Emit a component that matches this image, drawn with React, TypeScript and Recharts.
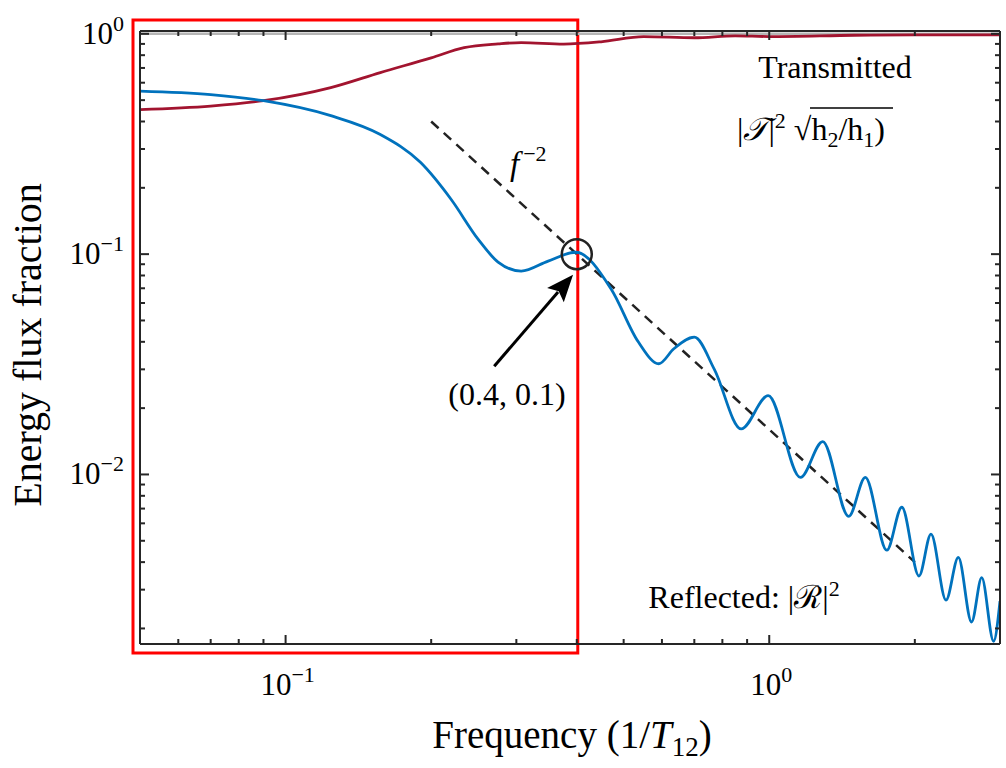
import React from "react";
import {
  LineChart,
  Line,
  XAxis,
  YAxis,
  ReferenceLine,
  ReferenceDot,
  ReferenceArea,
} from "recharts";

// reflected energy flux |R|^2 (blue)
const reflectedFreq = [
  0.05, 0.07, 0.09, 0.124, 0.157, 0.19, 0.22, 0.25, 0.275, 0.307, 0.349, 0.398,
  0.471, 0.536, 0.591, 0.635, 0.7, 0.77, 0.875, 0.995, 1.16, 1.29, 1.46, 1.58,
  1.75, 1.88, 2.04, 2.16, 2.32, 2.46, 2.62, 2.75, 2.91, 3.0,
];
const reflectedValue = [
  0.55, 0.53, 0.497, 0.425, 0.349, 0.261, 0.177, 0.117, 0.092, 0.0838, 0.093, 0.102,
  0.0695, 0.04, 0.0318, 0.0372, 0.042, 0.03, 0.0161, 0.0228, 0.0097, 0.0141, 0.00645, 0.0097,
  0.00453, 0.0071, 0.00346, 0.00536, 0.00269, 0.0042, 0.00214, 0.0034, 0.00175, 0.00266,
];

// transmitted energy flux (dark red)
const transmittedFreq = [
  0.05, 0.07, 0.09, 0.124, 0.157, 0.2, 0.234, 0.275, 0.307, 0.376, 0.449, 0.55, 0.7,
  0.85, 1.0, 1.5, 2.0, 3.0,
];
const transmittedValue = [
  0.453, 0.47, 0.497, 0.57, 0.667, 0.778, 0.865, 0.9, 0.913, 0.898, 0.92, 0.972, 0.96,
  0.979, 0.972, 0.985, 0.99, 0.99,
];

// f^-2 guide line
const slopeFreq = [0.2, 2];
const slopeValue = [0.4, 0.004];

// marked point
const markFreq = 0.4;
const markValue = 0.1;
const arrowFrom = { x: 0.27, y: 0.031 };
const arrowTo = { x: 0.393, y: 0.0807 };

const xTicks = [0.06, 0.07, 0.08, 0.09, 0.1, 0.2, 0.3, 0.4, 0.5, 0.6, 0.7, 0.8, 0.9, 1, 2];
const yTicks = [
  0.002, 0.003, 0.004, 0.005, 0.006, 0.007, 0.008, 0.009, 0.01, 0.02, 0.03, 0.04, 0.05,
  0.06, 0.07, 0.08, 0.09, 0.1, 0.2, 0.3, 0.4, 0.5, 0.6, 0.7, 0.8, 0.9, 1,
];

const reflected = reflectedFreq.map((f, i) => ({ f, v: reflectedValue[i] }));
const transmitted = transmittedFreq.map((f, i) => ({ f, v: transmittedValue[i] }));
const slope = slopeFreq.map((f, i) => ({ f, v: slopeValue[i] }));

const FONT = "'Liberation Serif', 'Times New Roman', serif";
const AXIS = "#262626";

const isMajor = (v: number) => Math.abs(Math.log10(v) - Math.round(Math.log10(v))) < 1e-6;
const expOf = (v: number) => {
  const e = Math.round(Math.log10(v));
  return e < 0 ? `\u2212${-e}` : `${e}`;
};

// inward ticks, MATLAB style; labels only on bottom/left decades
function makeTick(side: "bottom" | "top" | "left" | "right") {
  return (props: any) => {
    const { x, y, payload } = props;
    const v = payload.value;
    const major = isMajor(v);
    const len = major ? 9 : 5;
    let line;
    if (side === "bottom") line = <line x1={x} y1={y} x2={x} y2={y - len} />;
    else if (side === "top") line = <line x1={x} y1={y} x2={x} y2={y + len} />;
    else if (side === "left") line = <line x1={x} y1={y} x2={x + len} y2={y} />;
    else line = <line x1={x} y1={y} x2={x - len} y2={y} />;
    return (
      <g>
        <g stroke={AXIS} strokeWidth={2}>{line}</g>
        {major && side === "bottom" && (
          <text x={x + 2} y={y + 51} textAnchor="middle" fontFamily={FONT} fontSize={31} fill="#000">
            <tspan>10</tspan>
            <tspan dy={-13} fontSize={22}>{expOf(v)}</tspan>
          </text>
        )}
        {major && side === "left" && (
          <text x={x - 16} y={y + 10} textAnchor="end" fontFamily={FONT} fontSize={31} fill="#000">
            <tspan>10</tspan>
            <tspan dy={-13} fontSize={22}>{expOf(v)}</tspan>
          </text>
        )}
      </g>
    );
  };
}

const RedBox = (p: any) => (
  <rect
    x={p.x - 7}
    y={p.y - 11}
    width={p.width + 8}
    height={p.height + 20}
    fill="none"
    stroke="#ff0000"
    strokeWidth={3}
  />
);

const Arrow = (p: any) => {
  const { x1, y1, x2, y2 } = p;
  const dx = x2 - x1;
  const dy = y2 - y1;
  const L = Math.hypot(dx, dy);
  const ux = dx / L;
  const uy = dy / L;
  const hl = 27;
  const hw = 11;
  const bx = x2 - ux * hl;
  const by = y2 - uy * hl;
  return (
    <g>
      <line x1={x1} y1={y1} x2={bx + ux * 4} y2={by + uy * 4} stroke="#000" strokeWidth={3} />
      <polygon
        points={`${x2},${y2} ${bx - uy * hw},${by + ux * hw} ${bx + ux * 5},${by + uy * 5} ${bx + uy * hw},${by - ux * hw}`}
        fill="#000"
      />
    </g>
  );
};

export default function App() {
  return (
    <div
      style={{
        position: "absolute",
        left: 0,
        top: 0,
        width: 1006,
        height: 768,
        background: "#fff",
        fontFamily: FONT,
      }}
    >
      <LineChart width={1006} height={768} margin={{ top: 21, right: 0, bottom: 64, left: 60 }}>
        <XAxis
          xAxisId="b"
          dataKey="f"
          type="number"
          scale="log"
          domain={[0.05, 3]}
          allowDataOverflow
          ticks={xTicks}
          interval={0}
          height={60}
          tickSize={0}
          tickMargin={0}
          tickLine={false}
          axisLine={{ stroke: AXIS, strokeWidth: 2 }}
          tick={makeTick("bottom")}
        />
        <XAxis
          xAxisId="t"
          orientation="top"
          dataKey="f"
          type="number"
          scale="log"
          domain={[0.05, 3]}
          allowDataOverflow
          ticks={xTicks}
          interval={0}
          height={10}
          tickSize={0}
          tickMargin={0}
          tickLine={false}
          axisLine={{ stroke: AXIS, strokeWidth: 2 }}
          tick={makeTick("top")}
        />
        <YAxis
          yAxisId="l"
          type="number"
          scale="log"
          domain={[0.0017, 1.03]}
          allowDataOverflow
          ticks={yTicks}
          interval={0}
          width={80}
          tickSize={0}
          tickMargin={0}
          tickLine={false}
          axisLine={{ stroke: AXIS, strokeWidth: 2 }}
          tick={makeTick("left")}
        />
        <YAxis
          yAxisId="r"
          orientation="right"
          type="number"
          scale="log"
          domain={[0.0017, 1.03]}
          allowDataOverflow
          ticks={yTicks}
          interval={0}
          width={6}
          tickSize={0}
          tickMargin={0}
          tickLine={false}
          axisLine={{ stroke: AXIS, strokeWidth: 2 }}
          tick={makeTick("right")}
        />
        <ReferenceLine xAxisId="b" yAxisId="l" y={1} stroke="#b5b5b5" strokeWidth={2.5} />
        <Line
          xAxisId="b"
          yAxisId="l"
          data={transmitted}
          dataKey="v"
          type="monotone"
          dot={false}
          stroke="#A2142F"
          strokeWidth={2.8}
          isAnimationActive={false}
        />
        <Line
          xAxisId="b"
          yAxisId="l"
          data={slope}
          dataKey="v"
          type="linear"
          dot={false}
          stroke="#222"
          strokeWidth={2.5}
          strokeDasharray="10 7"
          isAnimationActive={false}
        />
        <Line
          xAxisId="b"
          yAxisId="l"
          data={reflected}
          dataKey="v"
          type="monotone"
          dot={false}
          stroke="#0072BD"
          strokeWidth={2.8}
          isAnimationActive={false}
        />
        <ReferenceDot
          xAxisId="b"
          yAxisId="l"
          x={markFreq}
          y={markValue}
          r={15}
          fill="none"
          stroke="#222"
          strokeWidth={2.5}
        />
        <ReferenceLine xAxisId="b" yAxisId="l" segment={[arrowFrom, arrowTo]} shape={Arrow} />
        <ReferenceArea
          xAxisId="b"
          yAxisId="l"
          x1={0.05}
          x2={markFreq}
          y1={0.0017}
          y2={1.03}
          ifOverflow="visible"
          shape={RedBox}
        />
      </LineChart>

      <svg
        width={1006}
        height={768}
        style={{ position: "absolute", left: 0, top: 0, pointerEvents: "none" }}
        fontFamily={FONT}
      >
        <text x={27} y={345} transform="rotate(-90 27 345)" textAnchor="middle" dominantBaseline="central" fontSize={40}>
          Energy flux fraction
        </text>
        <text x={572} y={748} textAnchor="middle" fontSize={39}>
          <tspan>Frequency (1/</tspan>
          <tspan fontStyle="italic">T</tspan>
          <tspan dy={8} fontSize={27}>12</tspan>
          <tspan dy={-8}>)</tspan>
        </text>
        <text x={835} y={78} textAnchor="middle" fontSize={32}>
          Transmitted
        </text>
        <text x={737} y={140} fontSize={32}>
          <tspan>|</tspan>
          <tspan fontStyle="italic">{"\u{1D4AF}"}</tspan>
          <tspan>|</tspan>
          <tspan dy={-12} fontSize={22}>2</tspan>
          <tspan dy={12}> {"\u221A"}</tspan>
          <tspan>h</tspan>
          <tspan dy={7} fontSize={22}>2</tspan>
          <tspan dy={-7}>/h</tspan>
          <tspan dy={7} fontSize={22}>1</tspan>
          <tspan dy={-7}>)</tspan>
        </text>
        <line x1={810} y1={108} x2={893} y2={108} stroke="#000" strokeWidth={1.5} />
        <text x={510} y={175} fontSize={33}>
          <tspan fontStyle="italic">f</tspan>
          <tspan dx={4} dy={-14} fontSize={22}>{"\u22122"}</tspan>
        </text>
        <text x={507} y={405} textAnchor="middle" fontSize={32}>
          (0.4, 0.1)
        </text>
        <text x={744} y={608} textAnchor="middle" fontSize={32}>
          <tspan>Reflected: |</tspan>
          <tspan>{"\u211B"}</tspan>
          <tspan>|</tspan>
          <tspan dy={-12} fontSize={22}>2</tspan>
        </text>
      </svg>
    </div>
  );
}
